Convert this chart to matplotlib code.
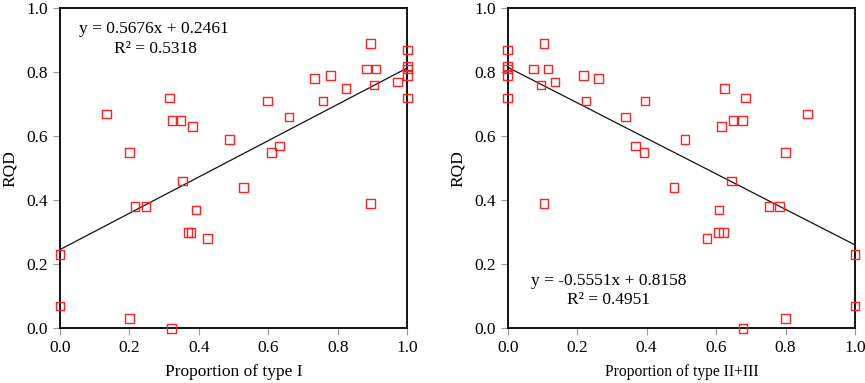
import matplotlib.pyplot as plt

plt.rcParams['font.family'] = ['Liberation Serif', 'DejaVu Serif']

# proportion of type I vs RQD
type1_x = [0.133, 0.20, 0.315, 0.322, 0.348, 0.382, 0.352, 0.488, 0.528, 0.597,
           0.609, 0.632, 0.659, 0.732, 0.757, 0.778, 0.823, 0.882, 0.894, 0.91,
           0.904, 0.971, 1.0, 1.0, 1.0, 1.0, 1.0, 0.216, 0.247, 0.391,
           0.368, 0.377, 0.424, 0.894, 0.0, 0.0, 0.20, 0.321]
type1_rqd = [0.67, 0.55, 0.72, 0.65, 0.65, 0.63, 0.46, 0.59, 0.44, 0.71,
             0.55, 0.57, 0.66, 0.78, 0.71, 0.79, 0.75, 0.81, 0.89, 0.81,
             0.76, 0.77, 0.87, 0.82, 0.81, 0.79, 0.72, 0.38, 0.38, 0.37,
             0.30, 0.30, 0.28, 0.39, 0.23, 0.07, 0.03, 0.0]

# proportion of type II+III vs RQD
type23_x = [0.0, 0.0, 0.0, 0.0, 0.0, 0.105, 0.074, 0.116, 0.096, 0.136,
            0.218, 0.261, 0.225, 0.34, 0.395, 0.368, 0.392, 0.511, 0.479, 0.624,
            0.684, 0.615, 0.649, 0.676, 0.645, 0.80, 0.864, 0.105, 0.609, 0.607,
            0.622, 0.574, 0.752, 0.782, 1.0, 1.0, 0.80, 0.678]
type23_rqd = [0.87, 0.82, 0.81, 0.79, 0.72, 0.89, 0.81, 0.81, 0.76, 0.77,
              0.79, 0.78, 0.71, 0.66, 0.71, 0.57, 0.55, 0.59, 0.44, 0.75,
              0.72, 0.63, 0.65, 0.65, 0.46, 0.55, 0.67, 0.39, 0.37, 0.30,
              0.30, 0.28, 0.38, 0.38, 0.23, 0.07, 0.03, 0.0]

# trendline coefficients (slope, intercept, R2) as printed on the chart
fit1 = (0.5676, 0.2461, 0.5318)
fit23 = (-0.5551, 0.8158, 0.4951)

fig = plt.figure(figsize=(8.65, 3.83), dpi=100)
ax1 = fig.add_axes([0.0694, 0.1428, 0.4015, 0.8355])
ax2 = fig.add_axes([0.5869, 0.1428, 0.4015, 0.8355])

panels = [
    (ax1, type1_x, type1_rqd, fit1, 'Proportion of type I', 12.5, (0.27, 0.935), (0.275, 0.873)),
    (ax2, type23_x, type23_rqd, fit23, 'Proportion of type II+III', 11.2, (0.292, 0.149), (0.29, 0.09)),
]

for ax, xs, ys, fit, xlabel, xl_size, pos1, pos2 in panels:
    slope, icpt, r2 = fit
    ax.scatter(xs, ys, marker='s', s=38, facecolors='none', edgecolors='#ff2020',
               linewidths=1.0, zorder=3, clip_on=False)
    # trendline over the full x range
    ax.plot([0, 1], [icpt, icpt + slope], color='#111111', linewidth=0.9, zorder=2)
    ax.text(pos1[0], pos1[1], f'y = {slope:.4f}x + {icpt:.4f}', ha='center', va='center',
            fontsize=12.5)
    ax.text(pos2[0], pos2[1], f'R² = {r2:.4f}', ha='center', va='center', fontsize=12.5)

    ax.set_xlim(0, 1)
    ax.set_ylim(0, 1)
    ax.set_xticks([0, 0.2, 0.4, 0.6, 0.8, 1.0])
    ax.set_yticks([0, 0.2, 0.4, 0.6, 0.8, 1.0])
    ax.xaxis.set_major_formatter(plt.FormatStrFormatter('%.1f'))
    ax.yaxis.set_major_formatter(plt.FormatStrFormatter('%.1f'))
    ax.tick_params(direction='out', length=5, width=0.8, color='#999999', labelsize=12.5)
    for sp in ax.spines.values():
        sp.set_linewidth(1.3)
    ax.set_xlabel(xlabel, fontsize=xl_size, labelpad=6)
    ax.set_ylabel('RQD', fontsize=12.5, labelpad=6)

fig.savefig('out.png', dpi=100)
